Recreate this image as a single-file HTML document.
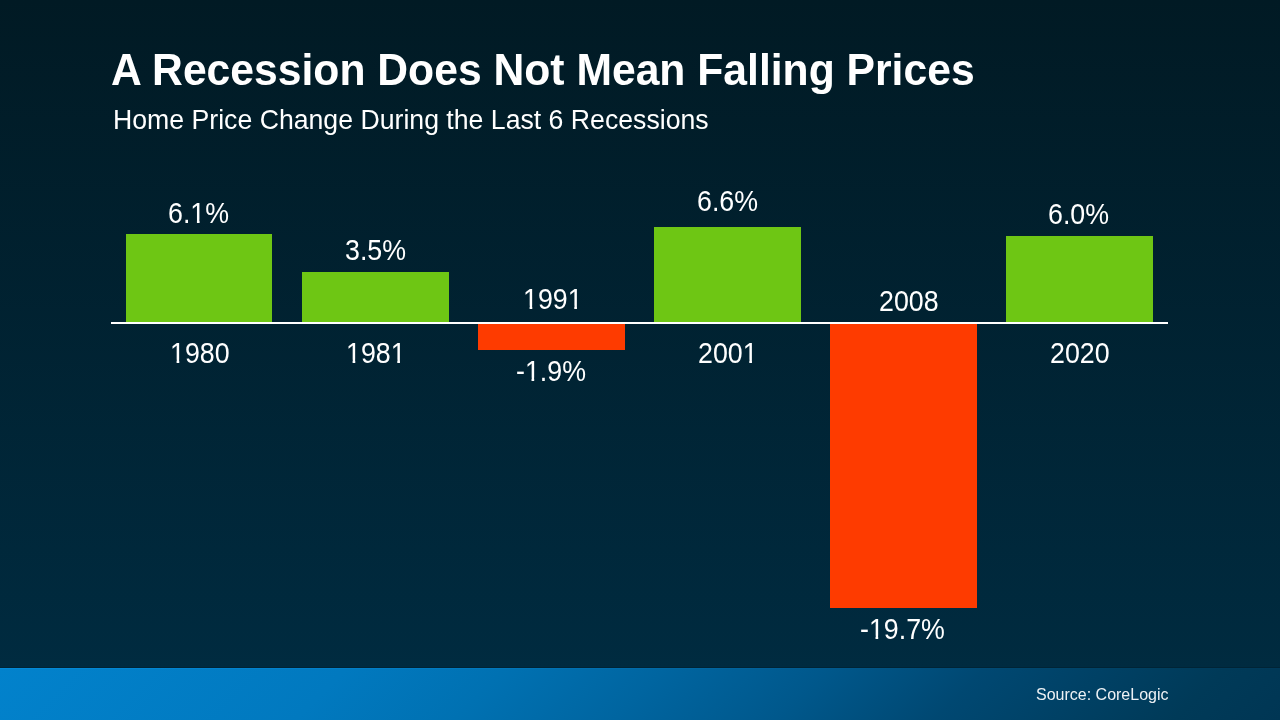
<!DOCTYPE html>
<html>
<head>
<meta charset="utf-8">
<style>
html,body{margin:0;padding:0;}
body{width:1280px;height:720px;position:relative;overflow:hidden;
  font-family:"Liberation Sans",sans-serif;color:#fff;
  background:linear-gradient(to bottom,#011a24 0px,#002b40 668px);}
.t{position:absolute;white-space:nowrap;line-height:1;transform-origin:0 0;will-change:transform;}
.bar{position:absolute;}
#axis{position:absolute;left:111px;top:322px;width:1057px;height:2px;background:#fff;}
.one{display:inline-block;clip-path:polygon(0 0,100% 0,100% 18.9px,9.0px 18.9px,9.0px 100%,6.4px 100%,6.4px 18.9px,0 18.9px);}
#ring1{position:absolute;left:0;top:667px;width:1280px;height:1px;background:rgba(0,0,0,0.15);}
#ring2{position:absolute;left:0;top:668px;width:1280px;height:1px;background:linear-gradient(135deg,#0282cc 0%,#0179bf 26%,#0071b2 38%,#0065a0 50%,#00588c 62%,#004872 74%,#003a58 92%,#003654 100%);filter:brightness(1.06);}
#foot{position:absolute;left:0;top:668px;width:1280px;height:52px;background:linear-gradient(135deg,#0282cc 0%,#0179bf 26%,#0071b2 38%,#0065a0 50%,#00588c 62%,#004872 74%,#003a58 92%,#003654 100%);}
</style>
</head>
<body>
<div class="bar" style="left:126px;top:234px;width:146px;height:88px;background:#6ec614;"></div>
<div class="bar" style="left:302px;top:272px;width:147px;height:50px;background:#6ec614;"></div>
<div class="bar" style="left:478px;top:324px;width:147px;height:26px;background:#fe3b00;"></div>
<div class="bar" style="left:654px;top:227px;width:147px;height:95px;background:#6ec614;"></div>
<div class="bar" style="left:830px;top:324px;width:147px;height:284px;background:#fe3b00;"></div>
<div class="bar" style="left:1006px;top:236px;width:147px;height:86px;background:#6ec614;"></div>
<div id="axis"></div>
<div id="foot"></div><div id="ring1"></div><div id="ring2"></div>
<div class="t" style="left:110.91px;top:46.91px;font-size:42.67px;transform:scale(1.0000,1.0500);font-weight:bold;">A Recession Does Not Mean Falling Prices</div>
<div class="t" style="left:112.56px;top:105.45px;font-size:26.67px;transform:scale(1.0000,1.0700);">Home Price Change During the Last 6 Recessions</div>
<div class="t" style="left:168.03px;top:198.74px;font-size:26px;transform:scale(1.0300,1.1000);">6.<span class="one">1</span>%</div>
<div class="t" style="left:344.70px;top:235.75px;font-size:26px;transform:scale(1.0300,1.1000);">3.5%</div>
<div class="t" style="left:522.61px;top:285.48px;font-size:26px;transform:scale(1.0300,1.1000);"><span class="one">1</span>99<span class="one">1</span></div>
<div class="t" style="left:516.03px;top:356.83px;font-size:26px;transform:scale(1.0300,1.1000);">-<span class="one">1</span>.9%</div>
<div class="t" style="left:696.87px;top:186.72px;font-size:26px;transform:scale(1.0300,1.1000);">6.6%</div>
<div class="t" style="left:879.30px;top:286.67px;font-size:26px;transform:scale(1.0300,1.1000);">2008</div>
<div class="t" style="left:860.07px;top:615.04px;font-size:26px;transform:scale(1.0300,1.1000);">-<span class="one">1</span>9.7%</div>
<div class="t" style="left:1048.04px;top:199.72px;font-size:26px;transform:scale(1.0300,1.1000);">6.0%</div>
<div class="t" style="left:169.65px;top:338.74px;font-size:26px;transform:scale(1.0300,1.1000);"><span class="one">1</span>980</div>
<div class="t" style="left:346.38px;top:339.28px;font-size:26px;transform:scale(1.0300,1.1000);"><span class="one">1</span>98<span class="one">1</span></div>
<div class="t" style="left:698.14px;top:339.29px;font-size:26px;transform:scale(1.0300,1.1000);">200<span class="one">1</span></div>
<div class="t" style="left:1049.75px;top:338.66px;font-size:26px;transform:scale(1.0300,1.1000);">2020</div>
<div class="t" style="left:1036.41px;top:685.89px;font-size:16px;transform:scale(1.0000,1.0500);color:#eef2f5;">Source: CoreLogic</div>
</body>
</html>
